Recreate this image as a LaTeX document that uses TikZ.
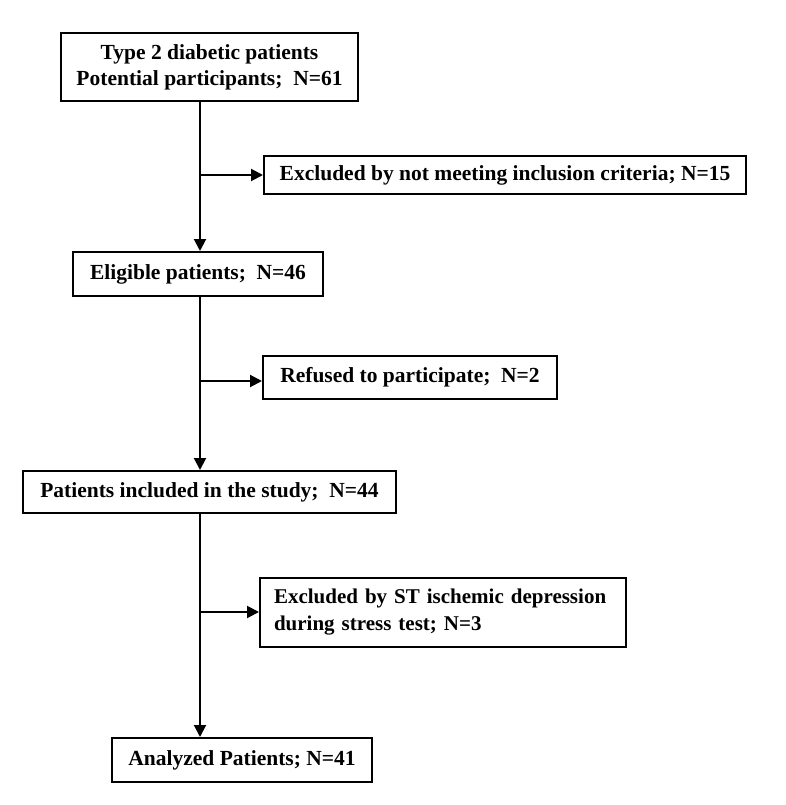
\documentclass[tikz,border=0pt]{standalone}
\usepackage{fontspec}
\setmainfont{Liberation Serif}
\usetikzlibrary{arrows.meta}
\usetikzlibrary{positioning,shapes,fit}
\usepackage{xcolor}

\begin{document}
\begin{tikzpicture}[x=1pt,y=1pt,
    box/.style={draw, line width=2pt, inner sep=0pt, align=center,
      font=\fontsize{21.5}{26}\selectfont\bfseries},
    arr/.style={line width=2pt, -{Triangle[length=12pt,width=12pt]}}]
      \useasboundingbox (0,0) rectangle (785,-805);
      \node[box, minimum width=297, minimum height=68] (b1) at (209.5,-67)
        {Type 2 diabetic patients\\Potential participants;~~N=61};
      \node[box, minimum width=482, minimum height=38] (b2) at (505,-175)
        {Excluded by not meeting inclusion criteria; N=15};
      \node[box, minimum width=250, minimum height=44] (b3) at (198,-274)
        {Eligible patients;~~N=46};
      \node[box, minimum width=294, minimum height=43] (b4) at (410,-377.5)
        {Refused to participate;~~N=2};
      \node[box, minimum width=373, minimum height=42] (b5) at (209.5,-492)
        {Patients included in the study;~~N=44};
      \node[box, minimum width=366, minimum height=69, align=left,
        font=\fontsize{21}{27}\selectfont\bfseries,
        text width=338, inner xsep=14pt] (b6) at (443,-612.5)
        {Excluded by ST ischemic depression\\during stress test; N=3};
      \node[box, minimum width=260, minimum height=44] (b7) at (242,-760)
        {Analyzed Patients; N=41};
      \coordinate (j1) at (200,-175);
      \coordinate (j2) at (200,-381);
      \coordinate (j3) at (200,-612);
      \draw[arr] (b1.south -| j1) -- (b3.north -| j1);
      \draw[arr] (j1) -- (b2.west);
      \draw[arr] (b3.south -| j2) -- (b5.north -| j2);
      \draw[arr] (j2) -- (b4.west |- j2);
      \draw[arr] (b5.south -| j3) -- (b7.north -| j3);
      \draw[arr] (j3) -- (b6.west |- j3);
\end{tikzpicture}
\end{document}
